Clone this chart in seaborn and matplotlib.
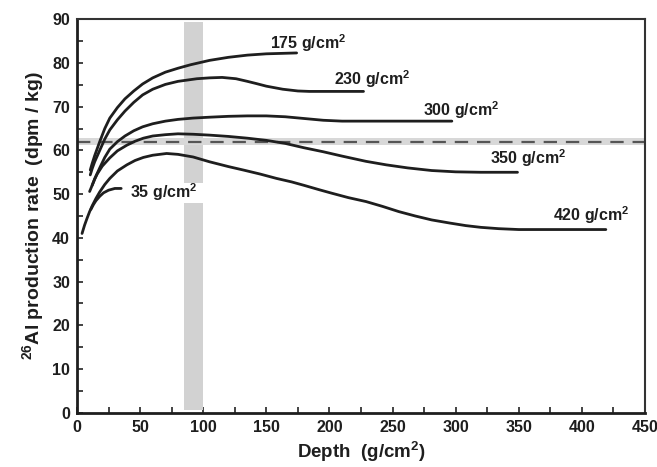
import numpy as np
import pandas as pd
import matplotlib
matplotlib.use("Agg")
import matplotlib.pyplot as plt
import seaborn as sns

# --- data ---
depth_175 = [10.5, 12, 14, 18, 22, 26, 32, 38, 45, 52, 60, 70, 80, 90, 105, 120, 135, 150, 174]
rate_175 = [55.5, 57.0, 58.8, 62.0, 65.0, 67.4, 69.8, 71.8, 73.6, 75.2, 76.6, 77.9, 78.8, 79.6, 80.6, 81.3, 81.8, 82.1, 82.3]

depth_230 = [10.5, 12, 14, 18, 22, 26, 32, 38, 45, 52, 60, 70, 80, 95, 105, 115, 126, 135, 142, 150, 163, 175, 184, 227]
rate_230 = [54.4, 55.8, 57.4, 60.0, 62.6, 64.7, 67.0, 69.0, 71.0, 72.7, 74.0, 75.1, 75.8, 76.4, 76.6, 76.7, 76.4, 75.8, 75.3, 74.7, 74.0, 73.6, 73.5, 73.5]

depth_300 = [10, 12, 14, 18, 22, 26, 32, 38, 45, 52, 60, 70, 80, 92, 105, 120, 135, 150, 165, 180, 195, 210, 297]
rate_300 = [50.6, 52.0, 53.5, 56.0, 58.4, 60.3, 62.0, 63.3, 64.5, 65.4, 66.1, 66.7, 67.1, 67.4, 67.6, 67.8, 67.9, 67.9, 67.7, 67.3, 66.9, 66.7, 66.7]

depth_350 = [12, 14, 16, 20, 26, 32, 39.5, 46, 52.6, 60, 70, 80, 92, 105, 120, 135, 150, 165, 180, 195, 210, 229, 245, 262, 281, 300, 320, 349]
rate_350 = [52.0, 53.4, 54.6, 56.4, 58.3, 59.9, 61.2, 62.1, 62.8, 63.3, 63.6, 63.8, 63.7, 63.5, 63.2, 62.8, 62.3, 61.6, 60.6, 59.7, 58.7, 57.5, 56.7, 56.0, 55.4, 55.1, 55.0, 55.0]

depth_420 = [4, 6, 8, 10, 12, 15, 18, 22, 26, 32, 39.5, 46, 52.6, 60, 71, 80, 92, 105, 120, 132, 145, 158, 170, 180, 192, 202, 215, 229, 242, 255, 268, 281, 295, 308, 320, 334, 350, 419]
rate_420 = [41.0, 42.9, 44.5, 46.0, 47.3, 49.0, 50.5, 52.2, 53.6, 55.3, 56.7, 57.7, 58.4, 58.9, 59.3, 59.1, 58.5, 57.4, 56.3, 55.5, 54.6, 53.6, 52.8, 52.0, 51.0, 50.2, 49.2, 48.3, 47.2, 46.0, 45.0, 44.1, 43.4, 42.8, 42.4, 42.1, 41.9, 41.9]

depth_35 = [11, 13, 15, 18, 21, 25, 30, 35]
rate_35 = [46.5, 47.6, 48.5, 49.5, 50.3, 50.9, 51.3, 51.3]

series_names = ["175", "230", "300", "350", "420", "35"]
label_x = [153, 204, 274, 327, 377, 42]
label_y = [84.6, 76.4, 69.3, 58.3, 45.1, 50.5]

band_x = [85, 100]
band_gap = [48.0, 52.5]
band_ylim = [0.7, 89.3]
ref_rate = 62.0
ref_band = [61.2, 62.8]

x_ticks = list(range(0, 451, 50))
y_ticks = list(range(0, 91, 10))

# --- build long-form table ---
all_depths = [depth_175, depth_230, depth_300, depth_350, depth_420, depth_35]
all_rates = [rate_175, rate_230, rate_300, rate_350, rate_420, rate_35]
frames = []
for name, d, r in zip(series_names, all_depths, all_rates):
    frames.append(pd.DataFrame({"depth": d, "rate": r, "series": name}))
df = pd.concat(frames, ignore_index=True)

sns.set_style("ticks")
plt.rcParams["font.family"] = ["Liberation Sans", "DejaVu Sans"]
plt.rcParams["mathtext.fontset"] = "custom"
plt.rcParams["mathtext.rm"] = "Liberation Sans"
plt.rcParams["mathtext.bf"] = "Liberation Sans:bold"

fig = plt.figure(figsize=(6.57, 4.67), dpi=100)
ax = fig.add_axes([0.1172, 0.1163, 0.8645, 0.8424])

# gray vertical band with gap
ax.fill_between(band_x, band_gap[1], band_ylim[1], color="#d2d2d2", lw=0, zorder=1)
ax.fill_between(band_x, band_ylim[0], band_gap[0], color="#d2d2d2", lw=0, zorder=1)
# horizontal reference band + dashed line
ax.axhspan(ref_band[0], ref_band[1], color="#d8d8d8", lw=0, zorder=1)
ax.axhline(ref_rate, color="#555555", lw=1.6, dashes=(6, 4), zorder=2)

sns.lineplot(data=df, x="depth", y="rate", units="series", estimator=None,
             color="#1e1e1e", lw=2.0, sort=False, ax=ax, zorder=3)

for name, lx, ly in zip(series_names, label_x, label_y):
    ax.text(lx, ly, name + r" g/cm$^{\mathbf{2}}$", ha="left", va="center", fontsize=11.5,
            fontweight="bold", color="#1e1e1e")

ax.set_xlim(0, 450)
ax.set_ylim(0, 90)
ax.set_xticks(x_ticks)
ax.set_yticks(y_ticks)
ax.set_xticks(np.arange(25, 450, 50), minor=True)
ax.set_yticks(np.arange(5, 90, 10), minor=True)
ax.tick_params(which="both", direction="in", length=4, width=1.2, color="#222222")
ax.tick_params(which="major", labelsize=11.5, pad=5)
for lab in ax.get_xticklabels() + ax.get_yticklabels():
    lab.set_fontweight("bold")
    lab.set_color("#1e1e1e")

ax.set_xlabel(r"Depth  (g/cm$^{\mathbf{2}}$)", fontsize=13.5, fontweight="bold", color="#1e1e1e", labelpad=3)
ax.set_ylabel(r"$^{\mathbf{26}}$Al production rate  (dpm / kg)", fontsize=14,
              fontweight="bold", color="#1e1e1e", labelpad=4)

for side in ["left", "bottom"]:
    ax.spines[side].set_linewidth(2.0)
    ax.spines[side].set_color("#1e1e1e")
for side in ["top", "right"]:
    ax.spines[side].set_visible(True)
    ax.spines[side].set_linewidth(1.5)
    ax.spines[side].set_color("#333333")

fig.savefig("out.png", dpi=100)
